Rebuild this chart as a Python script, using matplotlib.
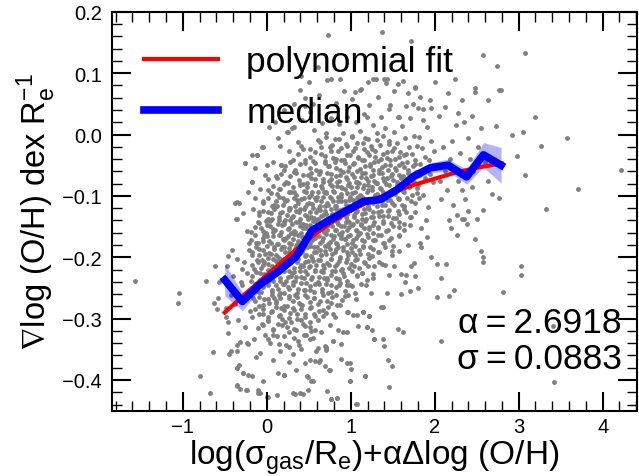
import numpy as np
import matplotlib
matplotlib.use("Agg")
import matplotlib.pyplot as plt
from matplotlib.ticker import MultipleLocator

plt.rcParams['font.family'] = ['Liberation Sans', 'DejaVu Sans']
plt.rcParams['mathtext.fontset'] = 'custom'
plt.rcParams['mathtext.rm'] = 'Liberation Sans'
plt.rcParams['mathtext.it'] = 'Liberation Sans'
plt.rcParams['mathtext.fallback'] = 'stixsans'

# --- données ----------------------------------------------------------------
# nuage dense (par colonnes de 0.1 en x)
core_pts = [
    (-0.47, -0.214), (-0.43, -0.262), (-0.46, -0.305), (-0.41, -0.188), (-0.44, -0.247), (-0.42, -0.352),
    (-0.48, -0.283), (-0.40, -0.231),
    (-0.37, -0.137), (-0.33, -0.112), (-0.36, -0.203), (-0.31, -0.241), (-0.38, -0.276), (-0.34, -0.302),
    (-0.32, -0.338), (-0.36, -0.381), (-0.35, -0.409), (-0.39, -0.258), (-0.30, -0.219),
    (-0.26, -0.047), (-0.22, -0.093), (-0.28, -0.128), (-0.24, -0.157), (-0.21, -0.188), (-0.27, -0.207),
    (-0.23, -0.226), (-0.29, -0.246), (-0.25, -0.268), (-0.20, -0.287), (-0.26, -0.313), (-0.22, -0.341),
    (-0.28, -0.388), (-0.24, -0.416), (-0.21, -0.176),
    (-0.12, -0.034), (-0.18, -0.078), (-0.14, -0.104), (-0.16, -0.121), (-0.11, -0.143), (-0.19, -0.159),
    (-0.13, -0.177), (-0.17, -0.196), (-0.10, -0.208), (-0.15, -0.219), (-0.19, -0.238), (-0.12, -0.255),
    (-0.16, -0.266), (-0.14, -0.284), (-0.18, -0.297), (-0.11, -0.316), (-0.15, -0.334), (-0.13, -0.362),
    (-0.17, -0.393), (-0.10, -0.421),
    (-0.06, -0.021), (-0.02, -0.066), (-0.08, -0.089), (-0.04, -0.108), (-0.09, -0.127), (-0.01, -0.141),
    (-0.07, -0.152), (-0.03, -0.164), (-0.05, -0.173), (-0.09, -0.186), (-0.02, -0.195), (-0.06, -0.204),
    (-0.04, -0.213), (-0.08, -0.226), (-0.01, -0.234), (-0.05, -0.247), (-0.07, -0.256), (-0.03, -0.268),
    (-0.09, -0.279), (-0.04, -0.292), (-0.06, -0.309), (-0.02, -0.327), (-0.08, -0.356), (-0.05, -0.401),
    (0.03, 0.012), (0.07, -0.044), (0.01, -0.072), (0.05, -0.096), (0.09, -0.114), (0.02, -0.126),
    (0.06, -0.138), (0.04, -0.149), (0.08, -0.158), (0.00, -0.166), (0.05, -0.177), (0.09, -0.184),
    (0.03, -0.193), (0.07, -0.202), (0.01, -0.211), (0.06, -0.219), (0.04, -0.228), (0.08, -0.238),
    (0.02, -0.246), (0.06, -0.257), (0.09, -0.266), (0.03, -0.275), (0.05, -0.289), (0.01, -0.302),
    (0.07, -0.318), (0.04, -0.339), (0.08, -0.367), (0.02, -0.427),
    (0.13, -0.006), (0.17, -0.049), (0.11, -0.067), (0.15, -0.088), (0.19, -0.103), (0.12, -0.117),
    (0.16, -0.128), (0.14, -0.139), (0.18, -0.147), (0.10, -0.155), (0.15, -0.164), (0.19, -0.171),
    (0.13, -0.179), (0.17, -0.187), (0.11, -0.196), (0.16, -0.203), (0.14, -0.211), (0.18, -0.218),
    (0.12, -0.226), (0.16, -0.234), (0.19, -0.243), (0.13, -0.251), (0.15, -0.262), (0.11, -0.271),
    (0.17, -0.283), (0.14, -0.296), (0.18, -0.311), (0.12, -0.329), (0.16, -0.352), (0.13, -0.388),
    (0.24, 0.004), (0.27, -0.027), (0.21, -0.058), (0.25, -0.079), (0.29, -0.094), (0.22, -0.108),
    (0.26, -0.119), (0.24, -0.131), (0.28, -0.139), (0.20, -0.146), (0.25, -0.154), (0.29, -0.161),
    (0.23, -0.169), (0.27, -0.176), (0.21, -0.184), (0.26, -0.191), (0.24, -0.199), (0.28, -0.207),
    (0.22, -0.214), (0.26, -0.222), (0.29, -0.231), (0.23, -0.239), (0.25, -0.248), (0.21, -0.258),
    (0.27, -0.267), (0.24, -0.279), (0.28, -0.291), (0.22, -0.306), (0.26, -0.322), (0.23, -0.343),
    (0.27, -0.371), (0.21, -0.392),
    (0.33, 0.013), (0.37, -0.012), (0.31, -0.041), (0.35, -0.063), (0.39, -0.081), (0.32, -0.094),
    (0.36, -0.106), (0.34, -0.117), (0.38, -0.126), (0.30, -0.134), (0.35, -0.142), (0.39, -0.149),
    (0.33, -0.157), (0.37, -0.164), (0.31, -0.171), (0.36, -0.178), (0.34, -0.186), (0.38, -0.193),
    (0.32, -0.201), (0.36, -0.208), (0.39, -0.216), (0.33, -0.224), (0.35, -0.232), (0.31, -0.241),
    (0.37, -0.251), (0.34, -0.262), (0.38, -0.274), (0.32, -0.286), (0.36, -0.301), (0.33, -0.317),
    (0.37, -0.336), (0.31, -0.358), (0.35, -0.384), (0.39, -0.421),
    (0.42, 0.024), (0.46, 0.046), (0.41, -0.018), (0.45, -0.047), (0.49, -0.066), (0.43, -0.081),
    (0.47, -0.093), (0.44, -0.104), (0.48, -0.113), (0.40, -0.122), (0.45, -0.131), (0.49, -0.138),
    (0.43, -0.146), (0.47, -0.153), (0.41, -0.161), (0.46, -0.168), (0.44, -0.175), (0.48, -0.183),
    (0.42, -0.191), (0.46, -0.198), (0.49, -0.206), (0.43, -0.214), (0.45, -0.223), (0.41, -0.232),
    (0.47, -0.242), (0.44, -0.253), (0.48, -0.265), (0.42, -0.278), (0.46, -0.293), (0.43, -0.309),
    (0.47, -0.327), (0.41, -0.349), (0.45, -0.373), (0.49, -0.395),
    (0.52, 0.037), (0.56, 0.008), (0.51, -0.024), (0.55, -0.043), (0.59, -0.058), (0.53, -0.071),
    (0.57, -0.083), (0.54, -0.094), (0.58, -0.103), (0.50, -0.111), (0.55, -0.119), (0.59, -0.127),
    (0.53, -0.134), (0.57, -0.141), (0.51, -0.148), (0.56, -0.155), (0.54, -0.162), (0.58, -0.169),
    (0.52, -0.176), (0.56, -0.183), (0.59, -0.191), (0.53, -0.198), (0.55, -0.206), (0.51, -0.214),
    (0.57, -0.223), (0.54, -0.232), (0.58, -0.243), (0.52, -0.254), (0.56, -0.267), (0.53, -0.281),
    (0.57, -0.296), (0.51, -0.313), (0.55, -0.331), (0.59, -0.352), (0.53, -0.402), (0.58, -0.369),
    (0.62, 0.064), (0.66, 0.019), (0.61, -0.009), (0.65, -0.031), (0.69, -0.047), (0.63, -0.061),
    (0.67, -0.073), (0.64, -0.084), (0.68, -0.093), (0.60, -0.101), (0.65, -0.109), (0.69, -0.116),
    (0.63, -0.123), (0.67, -0.131), (0.61, -0.138), (0.66, -0.145), (0.64, -0.152), (0.68, -0.159),
    (0.62, -0.166), (0.66, -0.173), (0.69, -0.181), (0.63, -0.188), (0.65, -0.196), (0.61, -0.204),
    (0.67, -0.213), (0.64, -0.222), (0.68, -0.233), (0.62, -0.244), (0.66, -0.257), (0.63, -0.271),
    (0.67, -0.286), (0.61, -0.303), (0.65, -0.322), (0.69, -0.344), (0.63, -0.367), (0.70, -0.349),
    (0.72, 0.089), (0.76, 0.027), (0.71, 0.002), (0.75, -0.021), (0.79, -0.038), (0.73, -0.052),
    (0.77, -0.064), (0.74, -0.075), (0.78, -0.084), (0.70, -0.093), (0.75, -0.101), (0.79, -0.108),
    (0.73, -0.115), (0.77, -0.122), (0.71, -0.129), (0.76, -0.136), (0.74, -0.143), (0.78, -0.149),
    (0.72, -0.156), (0.76, -0.163), (0.79, -0.171), (0.73, -0.178), (0.75, -0.186), (0.71, -0.194),
    (0.77, -0.203), (0.74, -0.212), (0.78, -0.222), (0.72, -0.233), (0.76, -0.246), (0.73, -0.259),
    (0.77, -0.274), (0.71, -0.291), (0.75, -0.311), (0.79, -0.336), (0.74, -0.383), (0.77, -0.431),
    (0.82, 0.051), (0.86, 0.018), (0.81, -0.008), (0.85, -0.027), (0.89, -0.041), (0.83, -0.054),
    (0.87, -0.066), (0.84, -0.077), (0.88, -0.086), (0.80, -0.094), (0.85, -0.102), (0.89, -0.109),
    (0.83, -0.116), (0.87, -0.123), (0.81, -0.129), (0.86, -0.136), (0.84, -0.142), (0.88, -0.149),
    (0.82, -0.155), (0.86, -0.162), (0.89, -0.169), (0.83, -0.176), (0.85, -0.184), (0.81, -0.192),
    (0.87, -0.201), (0.84, -0.211), (0.88, -0.221), (0.82, -0.233), (0.86, -0.246), (0.83, -0.261),
    (0.87, -0.278), (0.81, -0.297), (0.85, -0.318), (0.89, -0.341), (0.84, -0.430), (0.88, -0.366),
    (0.92, 0.071), (0.96, 0.029), (0.91, 0.003), (0.95, -0.018), (0.99, -0.034), (0.93, -0.047),
    (0.97, -0.059), (0.94, -0.069), (0.98, -0.079), (0.90, -0.087), (0.95, -0.095), (0.99, -0.102),
    (0.93, -0.109), (0.97, -0.116), (0.91, -0.122), (0.96, -0.129), (0.94, -0.135), (0.98, -0.142),
    (0.92, -0.149), (0.96, -0.156), (0.99, -0.163), (0.93, -0.171), (0.95, -0.179), (0.91, -0.188),
    (0.97, -0.197), (0.94, -0.207), (0.98, -0.218), (0.92, -0.231), (0.96, -0.246), (0.93, -0.263),
    (0.97, -0.289), (0.91, -0.322), (0.96, -0.372), (0.99, -0.401),
    (1.02, 0.058), (1.06, 0.021), (1.01, -0.004), (1.05, -0.022), (1.09, -0.036), (1.03, -0.048),
    (1.07, -0.059), (1.04, -0.069), (1.08, -0.078), (1.00, -0.086), (1.05, -0.093), (1.09, -0.101),
    (1.03, -0.107), (1.07, -0.114), (1.01, -0.121), (1.06, -0.127), (1.04, -0.134), (1.08, -0.141),
    (1.02, -0.148), (1.06, -0.156), (1.09, -0.164), (1.03, -0.172), (1.05, -0.181), (1.01, -0.191),
    (1.07, -0.202), (1.04, -0.214), (1.08, -0.229), (1.02, -0.247), (1.06, -0.268), (1.03, -0.294),
    (1.07, -0.439), (1.09, -0.312),
    (1.12, 0.074), (1.16, 0.034), (1.11, 0.006), (1.15, -0.014), (1.19, -0.029), (1.13, -0.041),
    (1.17, -0.052), (1.14, -0.062), (1.18, -0.071), (1.10, -0.079), (1.15, -0.087), (1.19, -0.094),
    (1.13, -0.101), (1.17, -0.108), (1.11, -0.115), (1.16, -0.122), (1.14, -0.129), (1.18, -0.137),
    (1.12, -0.145), (1.16, -0.153), (1.19, -0.162), (1.13, -0.172), (1.15, -0.183), (1.11, -0.195),
    (1.17, -0.209), (1.14, -0.226), (1.18, -0.246), (1.15, -0.289), (1.19, -0.313), (1.17, -0.393),
    (1.22, 0.049), (1.26, 0.016), (1.21, -0.007), (1.25, -0.024), (1.29, -0.037), (1.23, -0.048),
    (1.27, -0.058), (1.24, -0.067), (1.28, -0.075), (1.20, -0.083), (1.25, -0.091), (1.29, -0.098),
    (1.23, -0.105), (1.27, -0.112), (1.21, -0.119), (1.26, -0.126), (1.24, -0.134), (1.28, -0.142),
    (1.22, -0.151), (1.26, -0.161), (1.29, -0.172), (1.23, -0.184), (1.25, -0.198), (1.21, -0.214),
    (1.27, -0.234), (1.24, -0.258), (1.22, -0.295), (1.28, -0.334),
    (1.32, 0.062), (1.36, 0.028), (1.31, 0.002), (1.35, -0.017), (1.39, -0.031), (1.33, -0.043),
    (1.37, -0.053), (1.34, -0.062), (1.38, -0.071), (1.30, -0.079), (1.35, -0.087), (1.39, -0.094),
    (1.33, -0.101), (1.37, -0.108), (1.31, -0.116), (1.36, -0.124), (1.34, -0.132), (1.38, -0.141),
    (1.32, -0.151), (1.36, -0.163), (1.39, -0.176), (1.33, -0.191), (1.37, -0.211),
    (1.42, 0.084), (1.46, 0.041), (1.41, 0.011), (1.45, -0.011), (1.49, -0.026), (1.43, -0.038),
    (1.47, -0.049), (1.44, -0.058), (1.48, -0.067), (1.40, -0.075), (1.45, -0.083), (1.49, -0.091),
    (1.43, -0.098), (1.47, -0.106), (1.41, -0.114), (1.46, -0.123), (1.44, -0.133), (1.48, -0.144),
    (1.42, -0.157), (1.46, -0.172), (1.49, -0.189),
    (1.52, 0.071), (1.56, 0.029), (1.51, 0.004), (1.55, -0.014), (1.59, -0.028), (1.53, -0.039),
    (1.57, -0.049), (1.54, -0.058), (1.58, -0.066), (1.50, -0.074), (1.55, -0.082), (1.59, -0.089),
    (1.53, -0.097), (1.57, -0.105), (1.51, -0.114), (1.56, -0.124), (1.54, -0.136), (1.58, -0.151),
    (1.50, -0.182), (1.57, -0.166),
    (1.62, 0.088), (1.66, 0.046), (1.61, 0.014), (1.65, -0.006), (1.69, -0.021), (1.63, -0.033),
    (1.67, -0.044), (1.64, -0.053), (1.68, -0.062), (1.60, -0.070), (1.65, -0.078), (1.69, -0.086),
    (1.63, -0.094), (1.67, -0.103), (1.61, -0.114), (1.66, -0.127), (1.64, -0.145),
    (1.76, 0.078), (1.71, 0.027), (1.75, -0.003), (1.79, -0.019), (1.73, -0.031), (1.77, -0.042),
    (1.74, -0.052), (1.78, -0.061), (1.70, -0.069), (1.75, -0.078), (1.79, -0.087), (1.73, -0.098),
    (1.77, -0.112),
    (1.82, 0.061), (1.86, 0.024), (1.81, -0.004), (1.85, -0.022), (1.89, -0.037), (1.83, -0.048),
    (1.87, -0.059), (1.88, -0.071), (1.80, -0.083), (1.86, -0.098),
    (1.96, 0.043), (1.91, 0.012), (1.95, -0.011), (1.99, -0.027), (1.93, -0.041), (1.97, -0.052),
    (1.94, -0.064), (1.98, -0.077), (1.92, -0.118),
]

# remplissage du coeur du nuage (par bandes de 0.02 en y)
fill_pts = [
    (0.63, -0.012), (0.71, -0.004), (0.78, -0.017), (0.86, -0.008), (0.94, -0.015), (1.01, -0.002),
    (1.08, -0.013), (1.17, -0.006), (1.24, -0.018), (1.31, -0.009), (1.39, -0.003), (1.46, -0.016),
    (0.37, -0.031), (0.43, -0.024), (0.51, -0.037), (0.57, -0.028), (0.64, -0.021), (0.69, -0.035),
    (0.76, -0.026), (0.83, -0.039), (0.88, -0.022), (0.95, -0.033), (1.03, -0.027), (1.09, -0.038),
    (1.16, -0.023), (1.22, -0.034), (1.29, -0.026), (1.36, -0.039), (1.43, -0.029), (1.51, -0.022),
    (1.58, -0.036), (1.66, -0.031),
    (0.22, -0.052), (0.28, -0.044), (0.34, -0.057), (0.39, -0.048), (0.45, -0.041), (0.52, -0.055),
    (0.58, -0.046), (0.63, -0.059), (0.69, -0.043), (0.74, -0.051), (0.81, -0.045), (0.87, -0.058),
    (0.92, -0.042), (0.98, -0.053), (1.04, -0.047), (1.11, -0.056), (1.16, -0.041), (1.23, -0.052),
    (1.28, -0.044), (1.34, -0.058), (1.41, -0.049), (1.47, -0.042), (1.53, -0.055), (1.61, -0.046),
    (1.68, -0.057), (1.76, -0.048),
    (0.12, -0.071), (0.17, -0.064), (0.23, -0.077), (0.28, -0.068), (0.33, -0.061), (0.38, -0.074),
    (0.43, -0.066), (0.48, -0.079), (0.53, -0.063), (0.58, -0.072), (0.62, -0.065), (0.67, -0.078),
    (0.72, -0.062), (0.77, -0.073), (0.82, -0.067), (0.86, -0.076), (0.91, -0.061), (0.96, -0.072),
    (1.01, -0.064), (1.06, -0.077), (1.12, -0.069), (1.17, -0.062), (1.21, -0.075), (1.26, -0.066),
    (1.31, -0.079), (1.37, -0.063), (1.43, -0.071), (1.49, -0.065), (1.55, -0.077), (1.62, -0.068),
    (1.71, -0.074), (1.81, -0.066),
    (0.02, -0.091), (0.07, -0.084), (0.12, -0.097), (0.16, -0.088), (0.21, -0.081), (0.26, -0.094),
    (0.31, -0.086), (0.35, -0.099), (0.39, -0.083), (0.44, -0.092), (0.48, -0.085), (0.53, -0.098),
    (0.57, -0.082), (0.61, -0.093), (0.66, -0.087), (0.71, -0.096), (0.75, -0.081), (0.79, -0.092),
    (0.84, -0.084), (0.88, -0.097), (0.93, -0.089), (0.97, -0.082), (1.02, -0.095), (1.07, -0.086),
    (1.11, -0.099), (1.16, -0.083), (1.21, -0.091), (1.25, -0.085), (1.31, -0.097), (1.36, -0.088),
    (1.42, -0.081), (1.48, -0.094), (1.55, -0.087), (1.62, -0.092), (1.71, -0.084), (1.79, -0.096),
    (-0.04, -0.112), (0.01, -0.104), (0.06, -0.117), (0.11, -0.108), (0.15, -0.101), (0.19, -0.114),
    (0.24, -0.106), (0.28, -0.119), (0.32, -0.103), (0.37, -0.112), (0.41, -0.105), (0.46, -0.118),
    (0.50, -0.102), (0.54, -0.113), (0.59, -0.107), (0.63, -0.116), (0.67, -0.101), (0.72, -0.112),
    (0.76, -0.104), (0.81, -0.117), (0.85, -0.109), (0.89, -0.102), (0.94, -0.115), (0.98, -0.106),
    (1.03, -0.119), (1.07, -0.103), (1.12, -0.111), (1.16, -0.105), (1.21, -0.117), (1.26, -0.108),
    (1.31, -0.101), (1.37, -0.114), (1.43, -0.107), (1.49, -0.112), (1.56, -0.104), (1.64, -0.116),
    (1.72, -0.109), (1.81, -0.103),
    (-0.09, -0.131), (-0.04, -0.124), (0.01, -0.137), (0.05, -0.128), (0.09, -0.121), (0.14, -0.134),
    (0.18, -0.126), (0.22, -0.139), (0.27, -0.123), (0.31, -0.132), (0.35, -0.125), (0.39, -0.138),
    (0.44, -0.122), (0.48, -0.133), (0.52, -0.127), (0.56, -0.136), (0.61, -0.121), (0.65, -0.132),
    (0.69, -0.124), (0.73, -0.137), (0.78, -0.129), (0.82, -0.122), (0.86, -0.135), (0.91, -0.126),
    (0.95, -0.139), (0.99, -0.123), (1.04, -0.131), (1.08, -0.125), (1.13, -0.137), (1.17, -0.128),
    (1.22, -0.121), (1.27, -0.134), (1.32, -0.127), (1.38, -0.132), (1.44, -0.124), (1.50, -0.136),
    (1.57, -0.129), (1.63, -0.122), (1.70, -0.135), (1.77, -0.127),
    (-0.14, -0.151), (-0.09, -0.144), (-0.05, -0.157), (0.00, -0.148), (0.04, -0.141), (0.08, -0.154),
    (0.13, -0.146), (0.17, -0.159), (0.21, -0.143), (0.26, -0.152), (0.30, -0.145), (0.34, -0.158),
    (0.38, -0.142), (0.43, -0.153), (0.47, -0.147), (0.51, -0.156), (0.55, -0.141), (0.60, -0.152),
    (0.64, -0.144), (0.68, -0.157), (0.72, -0.149), (0.77, -0.142), (0.81, -0.155), (0.85, -0.146),
    (0.90, -0.159), (0.94, -0.143), (0.98, -0.151), (1.03, -0.145), (1.07, -0.157), (1.12, -0.148),
    (1.17, -0.141), (1.22, -0.154), (1.27, -0.147), (1.32, -0.152), (1.38, -0.144), (1.44, -0.156),
    (1.50, -0.149), (1.57, -0.142), (1.63, -0.155), (1.70, -0.147),
    (-0.19, -0.172), (-0.14, -0.164), (-0.10, -0.177), (-0.05, -0.168), (-0.01, -0.161), (0.03, -0.174),
    (0.08, -0.166), (0.12, -0.179), (0.16, -0.163), (0.21, -0.172), (0.25, -0.165), (0.29, -0.178),
    (0.33, -0.162), (0.37, -0.173), (0.42, -0.167), (0.46, -0.176), (0.50, -0.161), (0.54, -0.172),
    (0.58, -0.164), (0.63, -0.177), (0.67, -0.169), (0.71, -0.162), (0.75, -0.175), (0.80, -0.166),
    (0.84, -0.179), (0.88, -0.163), (0.93, -0.171), (0.97, -0.165), (1.02, -0.177), (1.06, -0.168),
    (1.11, -0.161), (1.16, -0.174), (1.21, -0.167), (1.27, -0.172), (1.33, -0.164), (1.40, -0.176),
    (1.48, -0.169), (1.57, -0.163),
    (-0.18, -0.191), (-0.13, -0.184), (-0.09, -0.197), (-0.04, -0.188), (0.00, -0.181), (0.05, -0.194),
    (0.09, -0.186), (0.13, -0.199), (0.18, -0.183), (0.22, -0.192), (0.26, -0.185), (0.30, -0.198),
    (0.35, -0.182), (0.39, -0.193), (0.43, -0.187), (0.47, -0.196), (0.52, -0.181), (0.56, -0.192),
    (0.60, -0.184), (0.65, -0.197), (0.69, -0.189), (0.73, -0.182), (0.78, -0.195), (0.82, -0.186),
    (0.87, -0.199), (0.91, -0.183), (0.96, -0.191), (1.00, -0.185), (1.05, -0.197), (1.10, -0.188),
    (1.15, -0.181), (1.21, -0.194), (1.27, -0.187), (1.34, -0.192), (1.41, -0.184), (1.49, -0.196),
    (-0.17, -0.212), (-0.12, -0.204), (-0.07, -0.217), (-0.03, -0.208), (0.02, -0.201), (0.06, -0.214),
    (0.11, -0.206), (0.15, -0.219), (0.20, -0.203), (0.24, -0.212), (0.28, -0.205), (0.33, -0.218),
    (0.37, -0.202), (0.41, -0.213), (0.46, -0.207), (0.50, -0.216), (0.54, -0.201), (0.59, -0.212),
    (0.63, -0.204), (0.68, -0.217), (0.72, -0.209), (0.77, -0.202), (0.81, -0.215), (0.86, -0.206),
    (0.90, -0.219), (0.95, -0.203), (1.00, -0.211), (1.05, -0.205), (1.10, -0.217), (1.16, -0.208),
    (1.22, -0.201), (1.28, -0.214), (1.34, -0.207), (1.41, -0.212),
    (-0.18, -0.231), (-0.13, -0.224), (-0.08, -0.237), (-0.03, -0.228), (0.01, -0.221), (0.06, -0.234),
    (0.11, -0.226), (0.16, -0.239), (0.20, -0.223), (0.25, -0.232), (0.30, -0.225), (0.34, -0.238),
    (0.39, -0.222), (0.44, -0.233), (0.48, -0.227), (0.53, -0.236), (0.58, -0.221), (0.62, -0.232),
    (0.67, -0.224), (0.72, -0.237), (0.76, -0.229), (0.81, -0.222), (0.86, -0.235), (0.91, -0.226),
    (0.96, -0.239), (1.01, -0.223), (1.07, -0.231), (1.13, -0.225), (1.19, -0.237), (1.26, -0.228),
    (-0.19, -0.252), (-0.14, -0.244), (-0.09, -0.257), (-0.04, -0.248), (0.01, -0.241), (0.06, -0.254),
    (0.11, -0.246), (0.16, -0.259), (0.21, -0.243), (0.26, -0.252), (0.31, -0.245), (0.36, -0.258),
    (0.41, -0.242), (0.46, -0.253), (0.51, -0.247), (0.56, -0.256), (0.61, -0.241), (0.66, -0.252),
    (0.71, -0.244), (0.76, -0.257), (0.82, -0.249), (0.87, -0.242), (0.93, -0.255), (0.99, -0.246),
    (1.05, -0.259), (1.12, -0.243),
    (-0.14, -0.271), (-0.09, -0.264), (-0.04, -0.277), (0.01, -0.268), (0.06, -0.261), (0.11, -0.274),
    (0.16, -0.266), (0.21, -0.279), (0.26, -0.263), (0.31, -0.272), (0.36, -0.265), (0.41, -0.278),
    (0.46, -0.262), (0.51, -0.273), (0.56, -0.267), (0.61, -0.276), (0.67, -0.261), (0.72, -0.272),
    (0.78, -0.264), (0.84, -0.277), (0.90, -0.269), (0.97, -0.262),
    (-0.09, -0.292), (-0.04, -0.284), (0.01, -0.297), (0.06, -0.288), (0.11, -0.281), (0.16, -0.294),
    (0.21, -0.286), (0.26, -0.299), (0.31, -0.283), (0.36, -0.292), (0.41, -0.285), (0.46, -0.298),
    (0.51, -0.282), (0.56, -0.293), (0.62, -0.287), (0.67, -0.296), (0.73, -0.281), (0.79, -0.292),
    (-0.04, -0.311), (0.02, -0.304), (0.07, -0.317), (0.13, -0.308), (0.18, -0.301), (0.24, -0.314),
    (0.29, -0.306), (0.35, -0.319), (0.41, -0.303), (0.46, -0.312), (0.52, -0.305), (0.58, -0.318),
    (0.02, -0.334), (0.08, -0.326), (0.14, -0.341), (0.20, -0.329), (0.26, -0.347), (0.32, -0.331),
    (0.38, -0.343), (0.44, -0.327),
]

# points isolés autour du nuage
outer_pts = [
    (-1.57, -0.239), (-1.04, -0.259), (-1.06, -0.274), (-0.80, -0.394), (-0.68, -0.421), (-0.64, -0.354),
    (-0.72, -0.239), (-0.62, -0.215), (-0.57, -0.240), (-0.63, -0.274), (-0.58, -0.267), (-0.59, -0.285),
    (-0.48, -0.298), (-0.46, -0.198), (-0.46, -0.324), (-0.45, -0.358), (-0.36, -0.343), (-0.36, -0.352),
    (-0.24, -0.340), (-0.36, -0.380), (-0.33, -0.375), (-0.28, -0.388), (-0.22, -0.392), (-0.36, -0.410),
    (-0.32, -0.414), (-0.25, -0.416), (-0.10, -0.416), (-0.08, -0.422), (0.00, -0.427), (0.12, -0.425),
    (0.21, -0.392), (0.31, -0.421), (0.34, -0.423), (0.43, -0.423),
    (-0.26, -0.047), (-0.12, -0.034), (-0.36, -0.110), (-0.36, -0.137), (0.25, 0.004), (-0.045, -0.021),
    (0.155, -0.019), (-0.17, -0.034), (-0.14, -0.055), (0.00, -0.050), (0.175, -0.049), (-0.18, -0.078),
    (-0.38, -0.112), (0.30, 0.010), (0.39, 0.073), (0.41, 0.095), (0.10, 0.020), (0.20, 0.040),
    (0.32, 0.050), (0.45, 0.060), (0.50, 0.085), (0.55, 0.050),
    (0.73, 0.163), (1.37, 0.167), (1.72, 0.153), (0.61, 0.110), (0.77, 0.090), (1.20, 0.086),
    (1.30, 0.091), (1.40, 0.090), (1.05, 0.069), (1.11, 0.072), (1.68, 0.068), (1.76, 0.076),
    (2.00, 0.085), (1.94, 0.057), (1.74, 0.050), (1.80, 0.043), (1.86, 0.042), (0.87, 0.091),
    (1.27, 0.091), (1.43, 0.091), (1.56, 0.083), (1.19, 0.029), (1.47, 0.048), (1.58, 0.029),
    (2.58, 0.129), (2.74, 0.111), (2.24, 0.091), (2.48, 0.076), (2.48, 0.070), (2.79, 0.073),
    (2.77, 0.072), (2.63, 0.057), (2.33, 0.057), (2.16, 0.068), (3.07, 0.133), (3.19, 0.029),
    (3.57, -0.006), (3.27, -0.019), (2.98, -0.035), (2.92, -0.001), (3.05, 0.004), (2.73, 0.014),
    (3.07, -0.066), (3.32, -0.122), (2.77, -0.103), (2.68, -0.097), (2.64, -0.076), (2.57, -0.123),
    (2.44, -0.085), (4.22, -0.058), (3.71, -0.089),
    (2.05, 0.030), (2.10, -0.020), (2.12, 0.045), (2.20, -0.010), (2.25, 0.015), (2.30, -0.030),
    (2.35, 0.020), (2.40, -0.005), (2.42, -0.040), (2.28, -0.075), (2.15, -0.090), (2.08, -0.105),
    (2.22, -0.115), (2.36, -0.105), (2.46, -0.060), (2.52, -0.020), (2.55, 0.010), (2.60, -0.045),
    (2.12, -0.060), (2.18, -0.040), (2.06, -0.075), (2.32, -0.090), (2.40, -0.125), (2.28, 0.035),
    (2.45, 0.030),
    (2.07, -0.233), (2.03, -0.211), (2.14, -0.211), (2.07, -0.336), (2.17, -0.263), (2.23, -0.253),
    (2.17, -0.140), (2.26, -0.131), (2.32, -0.138), (2.35, -0.138), (2.38, -0.145), (2.19, -0.153),
    (2.26, -0.164), (2.50, -0.138), (2.48, -0.170), (2.55, -0.190), (2.57, -0.200), (2.57, -0.207),
    (3.03, -0.215), (3.03, -0.229), (2.81, -0.257), (3.41, -0.312), (3.42, -0.403),
    (1.84, -0.153), (1.91, -0.167), (1.82, -0.176), (1.84, -0.183), (2.03, -0.264), (1.72, -0.134),
    (1.72, -0.215), (1.60, -0.228), (1.66, -0.229), (1.76, -0.231), (1.52, -0.214), (1.45, -0.229),
    (1.43, -0.259), (1.38, -0.281), (1.36, -0.281), (1.15, -0.289), (1.07, -0.294), (1.22, -0.295),
    (1.19, -0.313), (1.25, -0.318), (1.56, -0.317), (1.62, -0.322), (1.28, -0.334), (1.38, -0.333),
    (1.40, -0.344), (0.96, -0.289), (0.96, -0.322), (0.79, -0.337), (0.61, -0.348), (0.70, -0.347),
    (0.71, -0.351), (0.51, -0.333), (0.53, -0.320), (0.62, -0.371), (0.69, -0.378), (0.75, -0.383),
    (0.99, -0.372), (1.00, -0.382), (0.99, -0.401), (1.17, -0.393), (1.44, -0.368), (1.49, -0.377),
    (1.46, -0.412), (0.485, -0.393), (0.55, -0.402), (0.49, -0.416), (0.72, -0.418), (0.77, -0.431),
    (0.84, -0.430), (1.06, -0.439), (0.51, -0.367), (1.60, -0.260), (1.70, -0.255), (1.80, -0.250),
    (1.65, -0.240), (1.75, -0.210), (1.58, -0.190), (1.68, -0.180), (1.90, -0.140), (1.95, -0.200),
]

# médiane par intervalle et son incertitude
med_x = [-0.50, -0.29, -0.08, 0.14, 0.35, 0.54, 0.75, 0.95, 1.15, 1.35, 1.55, 1.75, 1.95, 2.16, 2.38, 2.58, 2.79]
med_y = [-0.237, -0.272, -0.244, -0.223, -0.199, -0.156, -0.139, -0.124, -0.109, -0.106, -0.090, -0.068,
         -0.054, -0.050, -0.069, -0.033, -0.050]
med_err = [0.026, 0.015, 0.009, 0.007, 0.006, 0.006, 0.005, 0.005, 0.005, 0.005, 0.006, 0.007,
           0.008, 0.010, 0.012, 0.020, 0.029]

# ajustement polynomial
fit_x = [-0.50, -0.25, 0.00, 0.25, 0.50, 0.75, 1.00, 1.25, 1.50, 1.75, 2.00, 2.25, 2.50, 2.80]
fit_y = [-0.290, -0.259, -0.229, -0.199, -0.170, -0.145, -0.124, -0.107, -0.094, -0.082, -0.072,
         -0.062, -0.054, -0.047]

alpha_val = 2.6918
sigma_val = 0.0883

# --- figure -------------------------------------------------------------------
fig = plt.figure(figsize=(6.39, 4.77), dpi=100)
ax = fig.add_axes([0.175, 0.137, 0.822, 0.836])

pts = np.array(core_pts + fill_pts + outer_pts)
ax.scatter(pts[:, 0], pts[:, 1], s=12, color='#808080', linewidths=0, zorder=1)

med_x = np.array(med_x)
med_y = np.array(med_y)
med_err = np.array(med_err)
ax.fill_between(med_x, med_y - med_err, med_y + med_err, color='#0000FF', alpha=0.3, linewidth=0, zorder=2)
ax.plot(fit_x, fit_y, color='#FF0000', lw=3, zorder=3, label='polynomial fit')
ax.plot(med_x, med_y, color='#0000FF', lw=5.5, zorder=4, label='median')

ax.set_xlim(-1.845, 4.41)
ax.set_ylim(-0.45, 0.2)
ax.xaxis.set_major_locator(MultipleLocator(1))
ax.xaxis.set_minor_locator(MultipleLocator(0.2))
ax.yaxis.set_major_locator(MultipleLocator(0.1))
ax.yaxis.set_minor_locator(MultipleLocator(0.02))
ax.tick_params(which='both', direction='in', top=True, right=True, labelsize=14.5)
ax.tick_params(which='major', length=13.5, width=1.5, pad=7)
ax.tick_params(axis='x', which='major', pad=4.5)
ax.tick_params(which='minor', length=7, width=1)
for sp in ax.spines.values():
    sp.set_linewidth(1.5)

ax.set_xlabel('log(σ$_\\mathrm{gas}$/R$_\\mathrm{e}$)+αΔlog (O/H)', fontsize=24, labelpad=1)
ax.set_ylabel('$\\nabla$log (O/H) dex R$_\\mathrm{e}^{-1}$', fontsize=23.5, labelpad=3)

ax.text(0.971, 0.198, 'α\u2009=\u2009%.4f' % alpha_val, transform=ax.transAxes, ha='right', va='baseline',
        fontsize=25.5)
ax.text(0.971, 0.108, 'σ\u2009=\u2009%.4f' % sigma_val, transform=ax.transAxes, ha='right', va='baseline',
        fontsize=25.5)

ax.legend(loc='upper left', bbox_to_anchor=(0, 0.997), frameon=False, fontsize=25.5, handlelength=2.1,
          handletextpad=0.8, labelspacing=0.51, borderaxespad=0.5, borderpad=0.4)

fig.savefig('out.png', dpi=100)
